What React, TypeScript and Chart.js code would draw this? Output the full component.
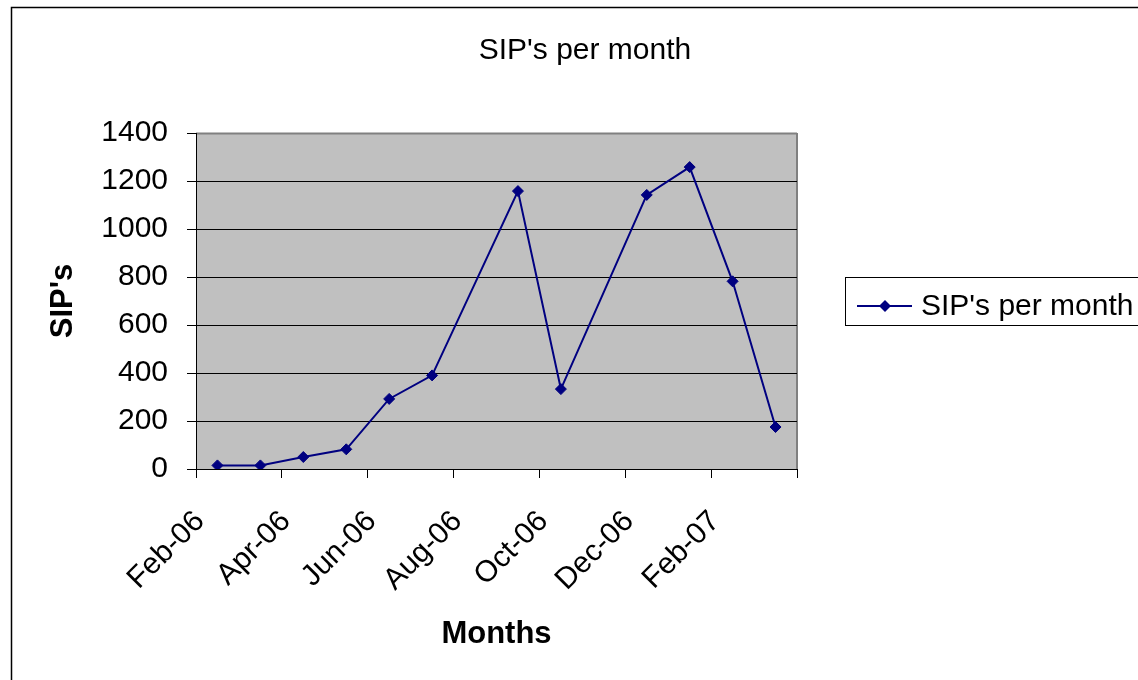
import React, { useEffect, useRef } from "react";
import { Chart, registerables } from "chart.js";

Chart.register(...registerables);

const chartTitle = "SIP's per month";
const seriesName = "SIP's per month";
const xAxisTitle = "Months";
const yAxisTitle = "SIP's";
const months = [
  "Feb-06", "Mar-06", "Apr-06", "May-06", "Jun-06", "Jul-06", "Aug-06",
  "Sep-06", "Oct-06", "Nov-06", "Dec-06", "Jan-07", "Feb-07", "Mar-07",
];
const sips: (number | null)[] = [15, 15, 50, 82, 292, 390, null, 1158, 333, null, 1142, 1258, 782, 175];
const yTicks = { min: 0, max: 1400, step: 200 };
const xLabelEvery = 2;

const FONT = "'Liberation Sans', Arial, sans-serif";
const NAVY = "#000080";

export default function App() {
  const ref = useRef<HTMLCanvasElement | null>(null);

  useEffect(() => {
    if (!ref.current) return;
    const points = months
      .map((m, i) => ({ x: i + 0.5, y: sips[i] }))
      .filter((p) => p.y !== null);

    const decor = {
      id: "decor",
      beforeDraw(chart: any) {
        const { ctx, chartArea: a } = chart;
        ctx.save();
        ctx.fillStyle = "#ffffff";
        ctx.fillRect(0, 0, chart.width, chart.height);
        ctx.fillStyle = "#C0C0C0";
        ctx.fillRect(a.left, a.top, a.right - a.left, a.bottom - a.top);
        ctx.strokeStyle = "#808080";
        ctx.lineWidth = 2;
        ctx.beginPath();
        ctx.moveTo(a.left, a.top + 0.5);
        ctx.lineTo(a.right, a.top + 0.5);
        ctx.moveTo(a.right, a.top);
        ctx.lineTo(a.right, a.bottom);
        ctx.stroke();
        ctx.restore();
      },
      afterDraw(chart: any) {
        const { ctx, chartArea: a } = chart;
        ctx.save();
        // outer chart border
        ctx.strokeStyle = "#000";
        ctx.lineWidth = 1.5;
        ctx.beginPath();
        ctx.moveTo(11.5, chart.height + 5);
        ctx.lineTo(11.5, 7.5);
        ctx.lineTo(chart.width + 5, 7.5);
        ctx.stroke();
        // title
        ctx.fillStyle = "#000";
        ctx.textAlign = "center";
        ctx.textBaseline = "alphabetic";
        ctx.font = `30px ${FONT}`;
        ctx.fillText(chartTitle, 585, 59);
        // x axis title
        ctx.font = `bold 31px ${FONT}`;
        ctx.fillText(xAxisTitle, (a.left + a.right) / 2, 643);
        // y axis title
        ctx.save();
        ctx.translate(72, (a.top + a.bottom) / 2);
        ctx.rotate(-Math.PI / 2);
        ctx.fillText(yAxisTitle, 0, 0);
        ctx.restore();
        // legend
        ctx.strokeStyle = "#000";
        ctx.lineWidth = 1;
        ctx.strokeRect(845.5, 277.5, 400, 48);
        ctx.strokeStyle = NAVY;
        ctx.lineWidth = 2;
        ctx.beginPath();
        ctx.moveTo(857, 306);
        ctx.lineTo(912, 306);
        ctx.stroke();
        ctx.fillStyle = NAVY;
        ctx.beginPath();
        ctx.moveTo(885, 300);
        ctx.lineTo(891, 306);
        ctx.lineTo(885, 312);
        ctx.lineTo(879, 306);
        ctx.closePath();
        ctx.fill();
        ctx.fillStyle = "#000";
        ctx.textAlign = "left";
        ctx.font = `30px ${FONT}`;
        ctx.fillText(seriesName, 921, 315);
        ctx.restore();
      },
    };

    const chart = new Chart(ref.current, {
      type: "line",
      data: {
        datasets: [
          {
            label: seriesName,
            data: points as any,
            borderColor: NAVY,
            backgroundColor: NAVY,
            borderWidth: 2,
            pointStyle: "rectRot",
            pointRadius: 5.5,
            pointBorderWidth: 1,
            pointBackgroundColor: NAVY,
            pointBorderColor: NAVY,
            spanGaps: true,
            tension: 0,
          },
        ],
      },
      options: {
        animation: false,
        responsive: false,
        layout: { padding: { left: 0, top: 133, right: 341, bottom: 0 } },
        plugins: {
          legend: { display: false },
          title: { display: false },
          tooltip: { enabled: false },
        },
        scales: {
          x: {
            type: "linear",
            min: 0,
            max: months.length,
            afterFit: (s: any) => {
              s.height = 211;
            },
            afterBuildTicks: (s: any) => {
              const t = [];
              for (let v = 0; v <= months.length; v += xLabelEvery) t.push({ value: v });
              s.ticks = t;
            },
            ticks: {
              autoSkip: false,
              maxRotation: 45,
              minRotation: 45,
              color: "#000",
              font: { family: FONT, size: 30 },
              padding: 26,
              labelOffset: 4,
              callback: (v: any) => (months[v] !== undefined ? months[v] : ""),
            },
            grid: {
              drawOnChartArea: false,
              drawTicks: true,
              tickLength: 9,
              color: "#000",
            },
            border: { display: true, color: "#000", width: 1 },
          },
          y: {
            min: yTicks.min,
            max: yTicks.max,
            afterFit: (s: any) => {
              s.width = 196;
            },
            ticks: {
              stepSize: yTicks.step,
              color: "#000",
              font: { family: FONT, size: 30 },
              padding: 19,
              callback: (v: any) => String(v),
            },
            grid: {
              color: (c: any) => (c.tick && c.tick.value === yTicks.max ? "#808080" : "#000"),
              tickColor: "#000",
              tickLength: 9,
              lineWidth: 1,
            },
            border: { display: true, color: "#000", width: 1 },
          },
        },
      },
      plugins: [decor],
    });
    return () => chart.destroy();
  }, []);

  return (
    <div style={{ position: "absolute", left: 0, top: 0, width: 1138, height: 680 }}>
      <canvas ref={ref} width={1138} height={680} style={{ display: "block" }} />
    </div>
  );
}
